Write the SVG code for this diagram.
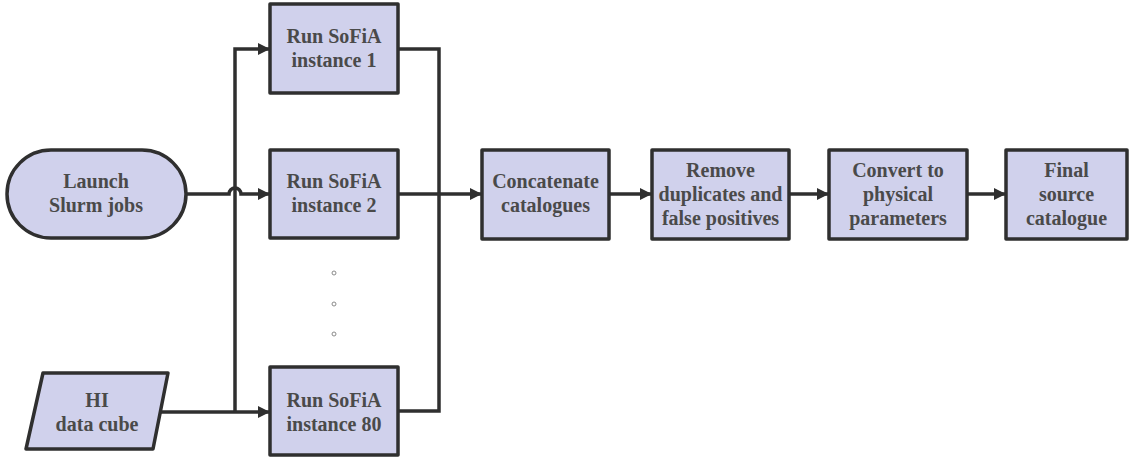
<svg xmlns="http://www.w3.org/2000/svg" width="1129" height="461" viewBox="0 0 1129 461">
<defs>
<style>
.n{fill:#d0d1ec;stroke:#2f2f2f;stroke-width:3.5;stroke-linejoin:round}
.t{font-family:'Liberation Serif','DejaVu Serif',serif;font-weight:700;font-size:20px;fill:#4a4a4a;text-anchor:middle}
.c{fill:none;stroke:#2f2f2f;stroke-width:3.5;stroke-linejoin:miter}
.a{marker-end:url(#ah)}
.dot{fill:none;stroke:#8a8a8a;stroke-width:1}
</style>
<marker id="ah" viewBox="0 0 12 12" refX="11" refY="6" markerWidth="12" markerHeight="12" markerUnits="userSpaceOnUse" orient="auto">
<path d="M0,0 L12,6 L0,12 z" fill="#2f2f2f"/>
</marker>
</defs>
<rect width="1129" height="461" fill="#ffffff"/>
<g id="connectors">
<path class="c a" d="M186,194 H229 a6,6 0 0 1 12,0 H269"/>
<path class="c a" d="M158,412 H269"/>
<path class="c a" d="M235,412 V49 H269"/>
<path class="c" d="M398,49 H439 V411 H398"/>
<path class="c a" d="M398,194 H481"/>
<path class="c a" d="M609,194 H651"/>
<path class="c a" d="M789,194 H828"/>
<path class="c a" d="M967,194 H1005"/>
</g>
<g id="launch">
<rect class="n" x="7" y="150" width="179" height="88" rx="44"/>
<text class="t" x="96" y="188">Launch</text>
<text class="t" x="96" y="212">Slurm jobs</text>
</g>
<g id="datacube">
<polygon class="n" points="43,373 168,373 153,449 26,449"/>
<text class="t" x="97" y="407">HI</text>
<text class="t" x="97" y="431">data cube</text>
</g>
<g id="sofia1">
<rect class="n" x="270" y="4" width="128" height="89"/>
<text class="t" x="334" y="43">Run SoFiA</text>
<text class="t" x="334" y="67">instance 1</text>
</g>
<g id="sofia2">
<rect class="n" x="270" y="150" width="128" height="88"/>
<text class="t" x="334" y="188">Run SoFiA</text>
<text class="t" x="334" y="212">instance 2</text>
</g>
<g id="ellipsis">
<circle class="dot" cx="334" cy="273" r="2"/>
<circle class="dot" cx="334" cy="304" r="2"/>
<circle class="dot" cx="334" cy="334" r="2"/>
</g>
<g id="sofia80">
<rect class="n" x="270" y="367" width="128" height="88"/>
<text class="t" x="334" y="407">Run SoFiA</text>
<text class="t" x="334" y="431">instance 80</text>
</g>
<g id="concat">
<rect class="n" x="482" y="150" width="127" height="89"/>
<text class="t" x="545.5" y="188">Concatenate</text>
<text class="t" x="545.5" y="212">catalogues</text>
</g>
<g id="remove">
<rect class="n" x="652" y="150" width="137" height="89"/>
<text class="t" x="720.5" y="177">Remove</text>
<text class="t" x="720.5" y="201">duplicates and</text>
<text class="t" x="720.5" y="225">false positives</text>
</g>
<g id="convert">
<rect class="n" x="829" y="150" width="138" height="89"/>
<text class="t" x="898" y="177">Convert to</text>
<text class="t" x="898" y="201">physical</text>
<text class="t" x="898" y="225">parameters</text>
</g>
<g id="final">
<rect class="n" x="1006" y="150" width="121" height="89"/>
<text class="t" x="1066.5" y="177">Final</text>
<text class="t" x="1066.5" y="201">source</text>
<text class="t" x="1066.5" y="225">catalogue</text>
</g>
</svg>
